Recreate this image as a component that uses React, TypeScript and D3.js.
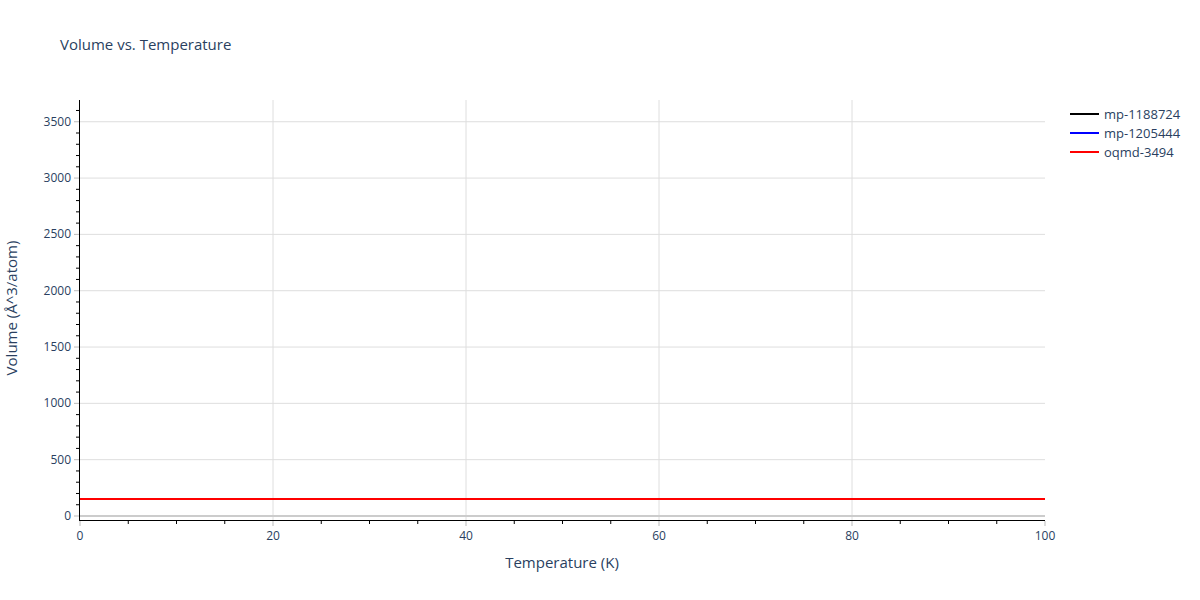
import React from "react";
import * as d3 from "d3";

const temperatures = [0, 10, 20, 30, 40, 50, 60, 70, 80, 90, 100];
const mp1188724 = [148, 148, 148, 148, 148, 148, 148, 148, 148, 148, 148];
const mp1205444 = [148, 148, 148, 148, 148, 148, 148, 148, 148, 148, 148];
const oqmd3494 = [148, 148, 148, 148, 148, 148, 148, 148, 148, 148, 148];
const seriesNames = ["mp-1188724", "mp-1205444", "oqmd-3494"];
const seriesColors = ["#000000", "#0000ff", "#ff0000"];
const xTicks = [0, 20, 40, 60, 80, 100];
const yTicks = [0, 500, 1000, 1500, 2000, 2500, 3000, 3500];

const W = 1200, H = 600;
const L = 80, R = 1045, T = 100, B = 516;
const FONT = "'Open Sans', Verdana, Arial, sans-serif";
const TXT = "#2a3f5f";

export default function App() {
  const x = d3.scaleLinear().domain([0, 100]).range([L, R]);
  const y = d3.scaleLinear().domain([0, 3693]).range([B, T]);
  const series = [mp1188724, mp1205444, oqmd3494];
  const line = d3.line<number>().x((_, i) => x(temperatures[i])).y((d) => y(d));
  const xMinor = d3.range(0, 101, 5).filter((v) => v % 20 !== 0);
  const yMinor = d3.range(0, 3701, 100).filter((v) => v % 500 !== 0 && y(v) >= T);
  return (
    <svg width={W} height={H} style={{ position: "absolute", left: 0, top: 0, background: "#fff" }} fontFamily={FONT}>
      <text x={60} y={50} fontSize={15} fill={TXT}>Volume vs. Temperature</text>
      {yTicks.filter((v) => v !== 0).map((v) => (
        <line key={"gy" + v} x1={L} x2={R} y1={y(v)} y2={y(v)} stroke="#dedede" strokeWidth={1} />
      ))}
      {xTicks.filter((v) => v !== 0 && v !== 100).map((v) => (
        <line key={"gx" + v} x1={x(v)} x2={x(v)} y1={T} y2={B + 4} stroke="#dedede" strokeWidth={1} />
      ))}
      <line x1={L} x2={R} y1={y(0)} y2={y(0)} stroke="#cccccc" strokeWidth={2} />
      {series.map((s, i) => (
        <path key={seriesNames[i]} d={line(s) || ""} fill="none" stroke={seriesColors[i]} strokeWidth={2} shapeRendering="crispEdges" />
      ))}
      {/* y axis */}
      <line x1={L - 0.5} x2={L - 0.5} y1={T} y2={B + 4} stroke="#000" strokeWidth={1} />
      {yTicks.map((v) => (
        <g key={"yt" + v}>
          <line x1={L - 6} x2={L - 1} y1={y(v)} y2={y(v)} stroke="#bbbbbb" strokeWidth={1} />
          <text x={L - 9} y={y(v) + 4} fontSize={12} fill={TXT} textAnchor="end">{v}</text>
        </g>
      ))}
      {yMinor.map((v) => (
        <line key={"ym" + v} x1={L - 4} x2={L - 1} y1={y(v)} y2={y(v)} stroke="#000" strokeWidth={1} />
      ))}
      {/* x axis */}
      <line x1={L - 1} x2={R} y1={520.5} y2={520.5} stroke="#000" strokeWidth={1} />
      {xTicks.map((v) => (
        <g key={"xt" + v}>
          <line x1={x(v)} x2={x(v)} y1={521} y2={526} stroke="#bbbbbb" strokeWidth={1} />
          <text x={x(v)} y={540} fontSize={12} fill={TXT} textAnchor="middle">{v}</text>
        </g>
      ))}
      {xMinor.map((v) => (
        <line key={"xm" + v} x1={x(v)} x2={x(v)} y1={521} y2={524} stroke="#000" strokeWidth={1} />
      ))}
      <text x={562} y={568} fontSize={15} fill={TXT} textAnchor="middle">Temperature (K)</text>
      <text transform={`translate(17,${(T + B) / 2}) rotate(-90)`} fontSize={15} fill={TXT} textAnchor="middle">Volume (Å^3/atom)</text>
      {seriesNames.map((n, i) => (
        <g key={"lg" + n} transform={`translate(1070,${114 + i * 19})`}>
          <line x1={0} x2={29} y1={0} y2={0} stroke={seriesColors[i]} strokeWidth={2} />
          <text x={34} y={4.5} fontSize={13} fill={TXT}>{n}</text>
        </g>
      ))}
    </svg>
  );
}
